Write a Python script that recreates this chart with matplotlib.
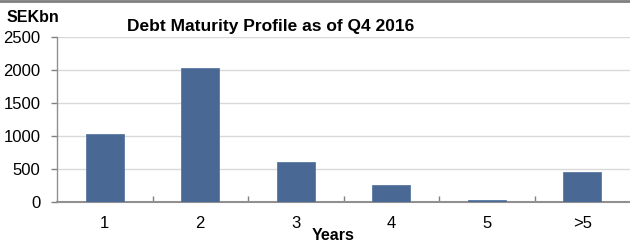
import matplotlib
matplotlib.use("Agg")
import matplotlib.pyplot as plt
from matplotlib.lines import Line2D

categories = ["1", "2", "3", "4", "5", ">5"]
values = [1030, 2035, 610, 252, 25, 458]
yticks = [0, 500, 1000, 1500, 2000, 2500]

plt.rcParams['font.family'] = ['Liberation Sans', 'DejaVu Sans']

W, H = 630, 242
fig = plt.figure(figsize=(W / 100, H / 100), dpi=100)
fig.patch.set_facecolor('white')

left = 57 / W
right = 630 / W
bottom = 1 - 201.7 / H
top = 1 - 37.3 / H
ax = fig.add_axes([left, bottom, right - left, top - bottom])

x = list(range(len(categories)))
ax.bar(x, values, width=0.4, color='#4A6894', edgecolor='#5A78A4', linewidth=0.6, zorder=3)

ax.set_xlim(-0.5, len(categories) - 0.5)
ax.set_ylim(0, 2500)
ax.set_yticks(yticks)
ax.set_yticklabels([str(v) for v in yticks], fontsize=12)
ax.yaxis.grid(True, color='#D9D9D9', linewidth=1.0, zorder=0)
ax.set_axisbelow(True)

# x ticks: labels at centres, tick marks at boundaries
ax.set_xticks(x)
ax.set_xticklabels(categories, fontsize=12)
ax.tick_params(axis='x', length=0, pad=10)
ax.set_xticks([i + 0.5 for i in range(len(categories) - 1)], minor=True)
ax.tick_params(axis='x', which='minor', direction='in', length=4, color='#808080', width=1)
ax.tick_params(axis='y', direction='out', length=4, color='#808080', width=1, pad=8)

for s in ['top', 'right']:
    ax.spines[s].set_visible(False)
ax.spines['left'].set_color('#909090')
ax.spines['bottom'].set_color('#909090')
ax.spines['left'].set_linewidth(1.0)
ax.spines['bottom'].set_linewidth(1.5)

fig.text(271 / W, 1 - 26 / H, "Debt Maturity Profile as of Q4 2016", ha='center', va='center',
         fontsize=12.5, fontweight='bold')
fig.text(7 / W, 1 - 18 / H, "SEKbn", ha='left', va='center', fontsize=11.5, fontweight='bold')
fig.text(333 / W, 1 - 235 / H, "Years", ha='center', va='center', fontsize=11.5, fontweight='bold')

fig.add_artist(Line2D([0, 1], [1 - 1 / H, 1 - 1 / H], transform=fig.transFigure,
                      color='#7F7F7F', linewidth=2))

fig.savefig("out.png", dpi=100, facecolor='white')
